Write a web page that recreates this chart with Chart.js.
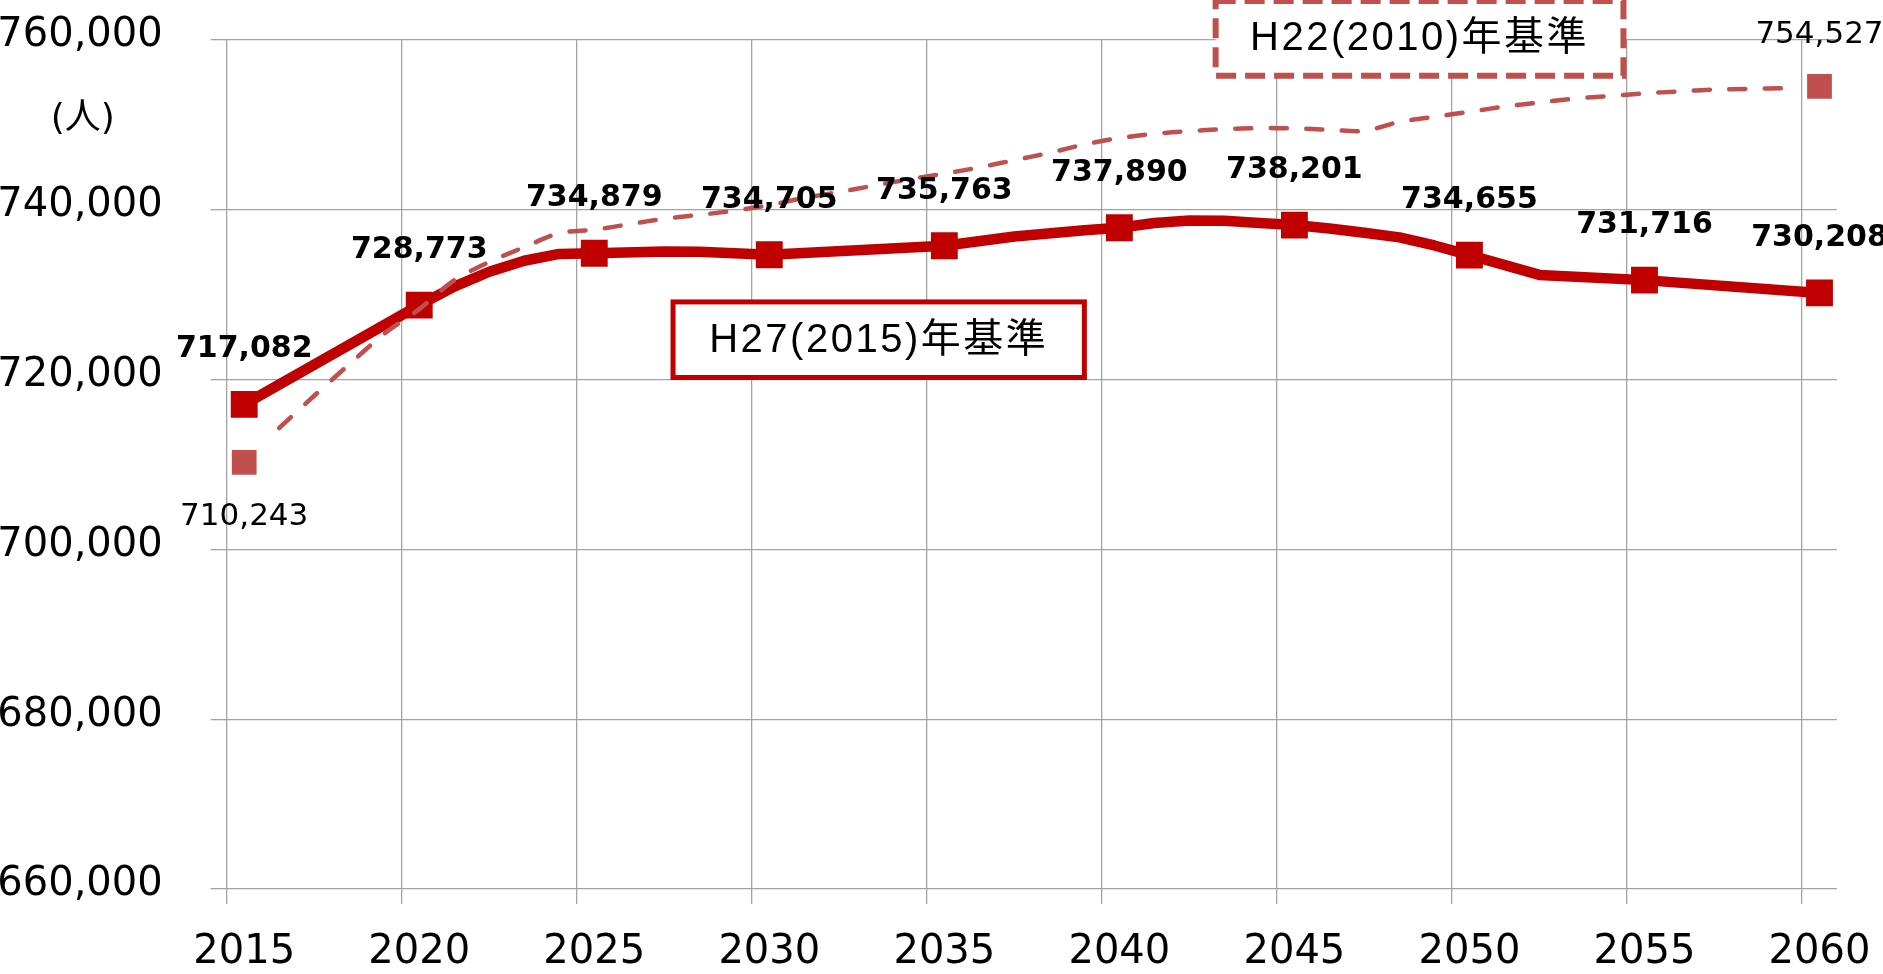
<!DOCTYPE html>
<html><head><meta charset="utf-8">
<script src="https://cdn.jsdelivr.net/npm/chart.js@4.4.1/dist/chart.umd.min.js"></script>
<style>
html,body{margin:0;padding:0;background:#fff;overflow:hidden}
#wrap{position:absolute;left:0;top:0;width:1883px;height:974px}
</style>
</head><body><div id="wrap"><canvas id="c" width="1883" height="974"></canvas></div>
<script>
// yearly categories (x axis)
const categories = ['2015','2016','2017','2018','2019','2020','2021','2022','2023','2024','2025','2026','2027','2028','2029','2030','2031','2032','2033','2034','2035','2036','2037','2038','2039','2040','2041','2042','2043','2044','2045','2046','2047','2048','2049','2050','2051','2052','2053','2054','2055','2056','2057','2058','2059','2060'];
const tickLabels = ['2015','2020','2025','2030','2035','2040','2045','2050','2055','2060'];
const yTicks = [660000, 680000, 700000, 720000, 740000, 760000];

// H27(2015)年基準 : marked values every 5 years
const markerYears = ['2015','2020','2025','2030','2035','2040','2045','2050','2055','2060'];
const h27Values = [717082, 728773, 734879, 734705, 735763, 737890, 738201, 734655, 731716, 730208];
// H27 line path
const h27LineYears = ['2015','2020','2021','2022','2023','2024','2025','2027','2028','2030','2035','2037','2039','2040','2041','2042','2043','2044','2045','2046','2047','2048','2049','2050','2052','2055','2060'];
const h27LineValues = [717082, 728773, 730950, 732700, 734000, 734800, 734879, 735100, 735050, 734705, 735763, 736850, 737600, 737890, 738450, 738750, 738700, 738450, 738201, 737800, 737300, 736750, 735800, 734655, 732330, 731716, 730208];

// H22(2010)年基準
const h22MarkerYears = ['2015','2060'];
const h22MarkerValues = [710243, 754527];
const h22LineYears = ['2016','2017','2018','2019','2020','2021','2022','2023','2024','2025','2026','2027','2028','2029','2030','2031','2032','2033','2034','2035','2036','2037','2038','2039','2040','2041','2042','2043','2044','2045','2046','2047','2048','2049','2050','2051','2052','2053','2054','2055','2056','2057','2058','2059'];
const h22LineValues = [714300, 718100, 721800, 725400, 728300, 731700, 733850, 735600, 737250, 737650, 738300, 738950, 739400, 739900, 740550, 741400, 742100, 742850, 743600, 744250, 745000, 745850, 746700, 747700, 748450, 748950, 749270, 749500, 749620, 749580, 749420, 749300, 750350, 750950, 751550, 752150, 752650, 753100, 753400, 753700, 753950, 754150, 754250, 754320];

const unitLabel = '(人)';
const h27Note = 'H27(2015)年基準';
const h22Note = 'H22(2010)年基準';

const C27 = '#C00000', C22 = '#C0504D', GRID = '#a3a3a3';
const FONT = "'DejaVu Sans', 'Noto Sans CJK JP', sans-serif";
const NOTE_FONT = "40px 'Liberation Sans', 'Noto Sans CJK JP', sans-serif";
const fmt = v => v.toLocaleString('en-US');
const pts = (xs, vs) => xs.map((x, i) => ({x, y: vs[i]}));

const notes = {
  id: 'notes',
  afterDatasetsDraw(chart) {
    const {ctx, scales: {x, y}} = chart;
    ctx.save();
    ctx.fillStyle = '#000';
    ctx.textAlign = 'center';
    ctx.textBaseline = 'middle';
    // H27 data labels
    ctx.font = 'bold 30px ' + FONT;
    chart.getDatasetMeta(2).data.forEach((p, i) => ctx.fillText(fmt(h27Values[i]), p.x, p.y - 55));
    // H22 data labels
    ctx.font = '31px ' + FONT;
    chart.getDatasetMeta(0).data.forEach((p, i) => ctx.fillText(fmt(h22MarkerValues[i]), p.x, p.y + (i === 0 ? 55 : -52)));
    // unit label
    ctx.font = '36px ' + FONT;
    ctx.fillText(unitLabel, x.left - 144, y.getPixelForValue(750600));
    // H27 note box
    const b1 = {l: x.getPixelForValue(12.25), r: x.getPixelForValue(24.0), t: y.getPixelForValue(729150), b: y.getPixelForValue(720250)};
    ctx.fillStyle = '#fff';
    ctx.fillRect(b1.l, b1.t, b1.r - b1.l, b1.b - b1.t);
    ctx.lineWidth = 5; ctx.strokeStyle = C27; ctx.setLineDash([]);
    ctx.strokeRect(b1.l, b1.t, b1.r - b1.l, b1.b - b1.t);
    ctx.fillStyle = '#000';
    ctx.font = NOTE_FONT;
    ctx.letterSpacing = '2.5px';
    ctx.fillText(h27Note, (b1.l + b1.r) / 2, (b1.t + b1.b) / 2 + 1);
    // H22 note box
    const b2 = {l: x.getPixelForValue(27.75), r: x.getPixelForValue(39.4), t: y.getPixelForValue(764590), b: y.getPixelForValue(755780)};
    ctx.fillStyle = '#fff';
    ctx.fillRect(b2.l, b2.t, b2.r - b2.l, b2.b - b2.t);
    ctx.lineWidth = 6; ctx.strokeStyle = C22; ctx.setLineDash([20, 9]);
    ctx.strokeRect(b2.l, b2.t, b2.r - b2.l, b2.b - b2.t);
    ctx.setLineDash([]);
    ctx.fillStyle = '#000';
    ctx.fillText(h22Note, (b2.l + b2.r) / 2, (b2.t + b2.b) / 2 + 1);
    ctx.restore();
  }
};

new Chart(document.getElementById('c'), {
  type: 'line',
  data: {
    labels: categories,
    datasets: [
      {label: 'H22 markers', data: pts(h22MarkerYears, h22MarkerValues), showLine: false,
       pointStyle: 'rect', pointRadius: 17.5, pointBackgroundColor: C22, pointBorderWidth: 0, borderColor: C22},
      {label: 'H22', data: pts(h22LineYears, h22LineValues), borderColor: C22, borderWidth: 4.5,
       borderDash: [16, 19.5], borderCapStyle: 'round', pointRadius: 0, tension: 0.3, fill: false},
      {label: 'H27 markers', data: pts(markerYears, h27Values), showLine: false,
       pointStyle: 'rect', pointRadius: 19, pointBackgroundColor: C27, pointBorderWidth: 0, borderColor: C27},
      {label: 'H27', data: pts(h27LineYears, h27LineValues), borderColor: C27, borderWidth: 10.5,
       borderJoinStyle: 'round', pointRadius: 0, tension: 0, fill: false}
    ]
  },
  options: {
    responsive: false,
    devicePixelRatio: 1,
    animation: false,
    layout: {padding: {top: 40, right: 46, bottom: 0, left: 0}},
    plugins: {legend: {display: false}, tooltip: {enabled: false}},
    scales: {
      x: {
        type: 'category',
        offset: true,
        afterFit: s => { s.paddingLeft = 0; s.paddingRight = 0; s.height = 85; },
        grid: {offset: true, lineWidth: 1.3, tickLength: 15,
               color: c => (typeof c.index === 'number' && c.index % 5 === 0) ? GRID : 'rgba(0,0,0,0)'},
        border: {display: false},
        ticks: {autoSkip: false, maxRotation: 0, minRotation: 0, padding: 25, color: '#000',
                font: {family: FONT, size: 40},
                callback: (v, i) => tickLabels.includes(categories[i]) ? categories[i] : ''}
      },
      y: {
        min: yTicks[0], max: yTicks[yTicks.length - 1],
        afterBuildTicks: s => { s.ticks = yTicks.map(v => ({value: v})); },
        afterFit: s => { s.width = 226.7; s.paddingTop = 0; s.paddingBottom = 0; },
        grid: {color: GRID, lineWidth: 1.3, tickLength: 16},
        border: {display: false},
        ticks: {padding: 48, labelOffset: -4, color: '#000', font: {family: FONT, size: 40},
                callback: v => fmt(v)}
      }
    }
  },
  plugins: [notes]
});
</script>
</body></html>
